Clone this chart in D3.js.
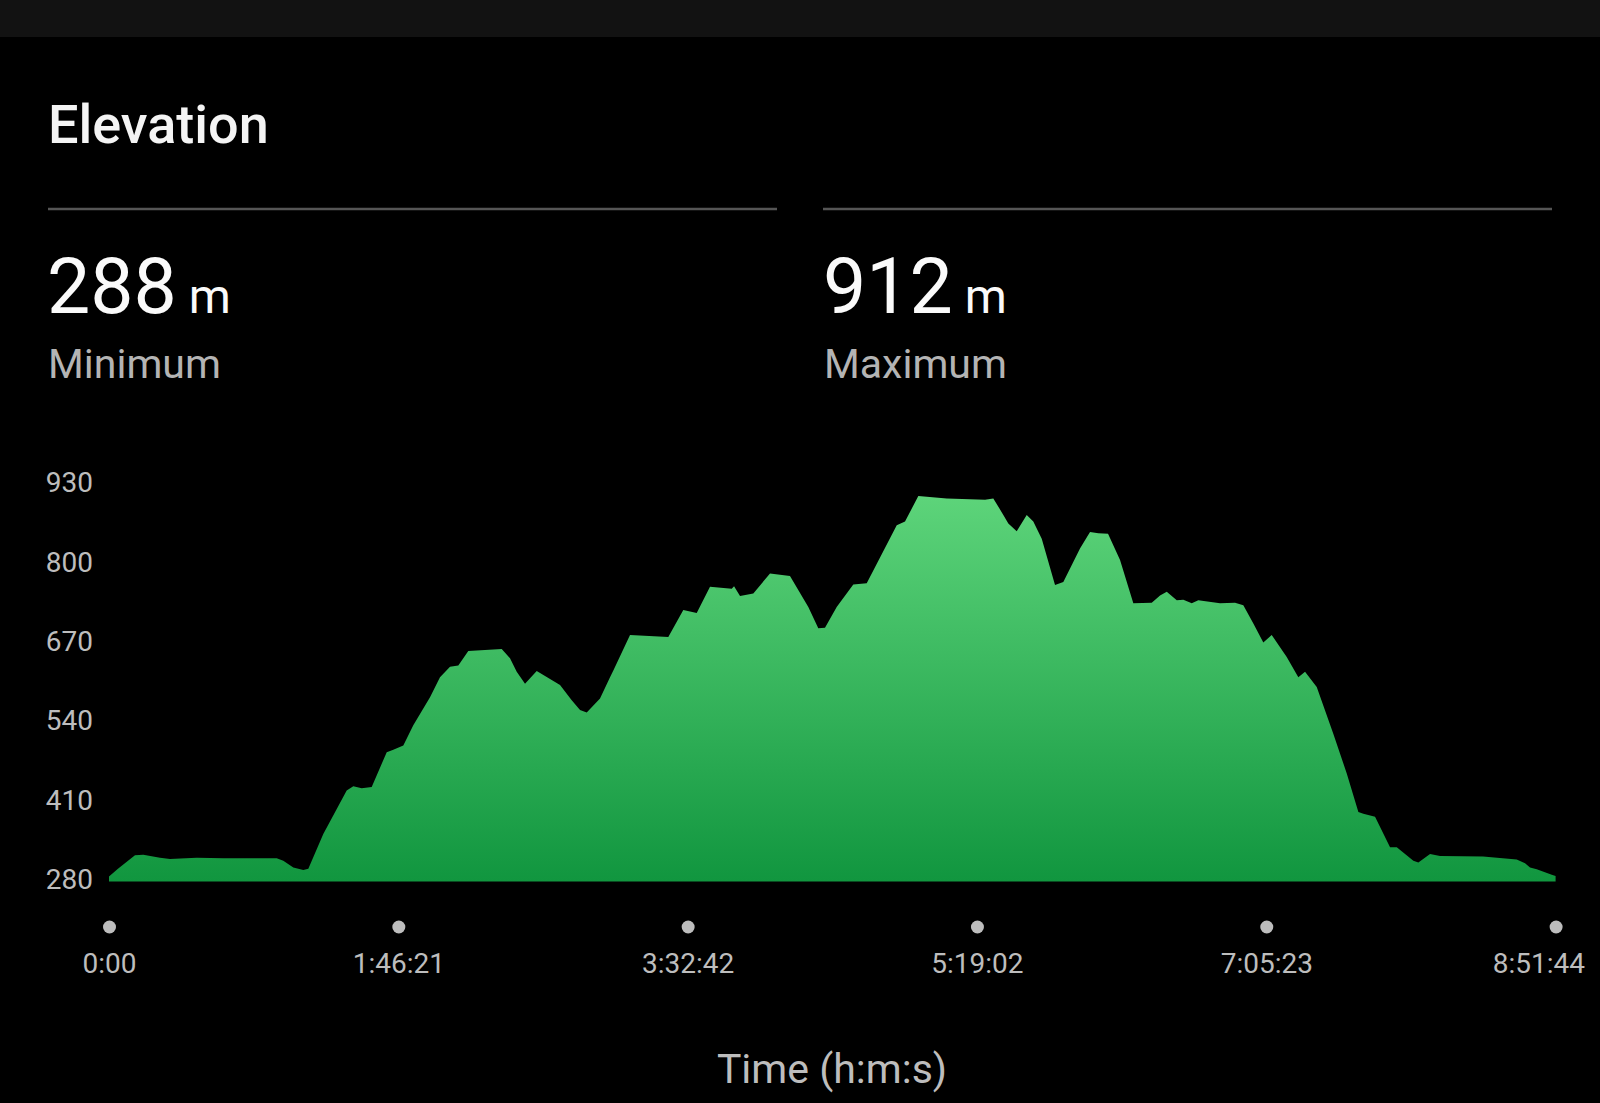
<!DOCTYPE html>
<html>
<head>
<meta charset="utf-8">
<script src="https://cdn.jsdelivr.net/npm/d3@7"></script>
<style>
  html, body { margin: 0; padding: 0; background: #000; }
  svg { display: block; }
</style>
</head>
<body>
<svg id="chart" width="1600" height="1103"></svg>
<script>
// elapsed time (seconds) and elevation (m)
const timeSec = [
  0, 198, 573, 756, 1125, 1345, 1934, 2521, 3699, 3844, 4065, 4285, 4396,
  4726, 5242, 5388, 5573, 5794, 6125, 6270, 6491, 6711, 7080, 7300, 7521,
  7704, 7924, 8661, 8844, 8992, 9175, 9433, 9947, 10205, 10388, 10536,
  10829, 11050, 11123, 11491, 12335, 12666, 12962, 13255, 13734, 13785,
  13917, 14210, 14578, 15019, 15423, 15643, 15791, 16049, 16415, 16711,
  17373, 17556, 17849, 18475, 19320, 19503, 19724, 19834, 20019, 20240,
  20385, 20571, 20864, 21047, 21415, 21636, 21819, 22033, 22298, 22591,
  22997, 23180, 23328, 23549, 23694, 23880, 24024, 24503, 24834, 25017,
  25238, 25458, 25643, 25974, 26230, 26378, 26636, 27003, 27298, 27554,
  27664, 27922, 28253, 28401, 28767, 28877, 29135, 29355, 30303, 31046,
  31230, 31340, 31488, 31819, 31904
];
const elevation = [
  288, 301, 323, 324, 319, 317, 319, 318, 318, 314, 303, 299, 301,
  358, 429, 436, 433, 435, 492, 496, 503, 536, 582, 615, 632,
  634, 658, 661, 646, 624, 604, 625, 602, 577, 561, 557,
  580, 615, 626, 684, 681, 725, 720, 763, 760, 764,
  748, 752, 785, 781, 730, 695, 696, 730, 767, 769,
  864, 870, 912, 908, 906, 908, 881, 867, 854, 881,
  870, 842, 766, 771, 826, 853, 851, 850, 807, 736,
  737, 749, 755, 741, 742, 736, 741, 736, 737, 733,
  703, 672, 684, 648, 615, 624, 599, 522, 457, 394,
  391, 386, 336, 336, 314, 311, 325, 322, 321, 316,
  310, 303, 300, 291, 289
];

const yTicks = [280, 410, 540, 670, 800, 930];
const xTickSec = [0, 6381, 12762, 19142, 25523, 31904];
const xTickLabels = ['0:00', '1:46:21', '3:32:42', '5:19:02', '7:05:23', '8:51:44'];

const minElev = 288;
const maxElev = 912;

const data = timeSec.map((t, i) => ({ t: t, e: elevation[i] }));

const svg = d3.select('#chart');
const font = 'Roboto, "Noto Sans", sans-serif';

svg.append('rect').attr('width', 1600).attr('height', 1103).attr('fill', '#000');
svg.append('rect').attr('width', 1600).attr('height', 37).attr('fill', '#121212');

// header
svg.append('text')
  .attr('x', 48).attr('y', 143)
  .style('font-family', font).style('font-size', '54px').style('font-weight', 500)
  .attr('fill', '#f4f4f4')
  .text('Elevation');

const stats = [
  { x: 47, value: minElev, label: 'Minimum', line: [48, 777] },
  { x: 823, value: maxElev, label: 'Maximum', line: [823, 1552] }
];

stats.forEach(s => {
  svg.append('line')
    .attr('x1', s.line[0]).attr('x2', s.line[1])
    .attr('y1', 209).attr('y2', 209)
    .attr('stroke', '#555').attr('stroke-width', 2.5);

  const v = svg.append('text')
    .attr('x', s.x).attr('y', 313)
    .style('font-family', font)
    .attr('fill', '#fafafa');
  v.append('tspan').style('font-size', '77px').text(s.value);
  v.append('tspan').attr('dx', 12).style('font-size', '48px').text('m');

  svg.append('text')
    .attr('x', s.x + 1).attr('y', 378)
    .style('font-family', font).style('font-size', '41px')
    .attr('fill', '#b4b4b4')
    .text(s.label);
});

// chart
const x = d3.scaleLinear().domain([0, 31904]).range([109, 1555.6]);
const y = d3.scaleLinear().domain([280, 930]).range([881.5, 485]);

const defs = svg.append('defs');
const grad = defs.append('linearGradient')
  .attr('id', 'elevFill')
  .attr('gradientUnits', 'userSpaceOnUse')
  .attr('x1', 0).attr('x2', 0)
  .attr('y1', y(maxElev)).attr('y2', y(280));
grad.append('stop').attr('offset', '0%').attr('stop-color', '#5dd47a');
grad.append('stop').attr('offset', '100%').attr('stop-color', '#11963f');

const area = d3.area()
  .x(d => x(d.t))
  .y0(y(280))
  .y1(d => y(d.e));

svg.append('path')
  .datum(data)
  .attr('d', area)
  .attr('fill', 'url(#elevFill)');

// y axis
const yAxis = svg.append('g')
  .attr('transform', 'translate(93,-2)')
  .call(d3.axisLeft(y).tickValues(yTicks).tickSize(0).tickPadding(0));
yAxis.select('.domain').remove();
yAxis.selectAll('text')
  .style('font-family', font).style('font-size', '28px')
  .attr('fill', '#bdbdbd');

// x axis with dot markers
const xAxis = svg.append('g')
  .attr('transform', 'translate(0,927)')
  .call(d3.axisBottom(x).tickValues(xTickSec).tickSize(0).tickPadding(26)
    .tickFormat((d, i) => xTickLabels[i]));
xAxis.select('.domain').remove();
xAxis.selectAll('.tick').append('circle')
  .attr('r', 6.5).attr('cy', 0).attr('fill', '#bdbdbd');
xAxis.selectAll('text')
  .style('font-family', font).style('font-size', '28px')
  .attr('fill', '#bdbdbd');
xAxis.selectAll('.tick').filter((d, i) => i === xTickSec.length - 1)
  .select('text').attr('text-anchor', 'end').attr('x', 29);

svg.append('text')
  .attr('x', 832).attr('y', 1083)
  .attr('text-anchor', 'middle')
  .style('font-family', font).style('font-size', '41px')
  .attr('fill', '#bdbdbd')
  .text('Time (h:m:s)');
</script>
</body>
</html>
